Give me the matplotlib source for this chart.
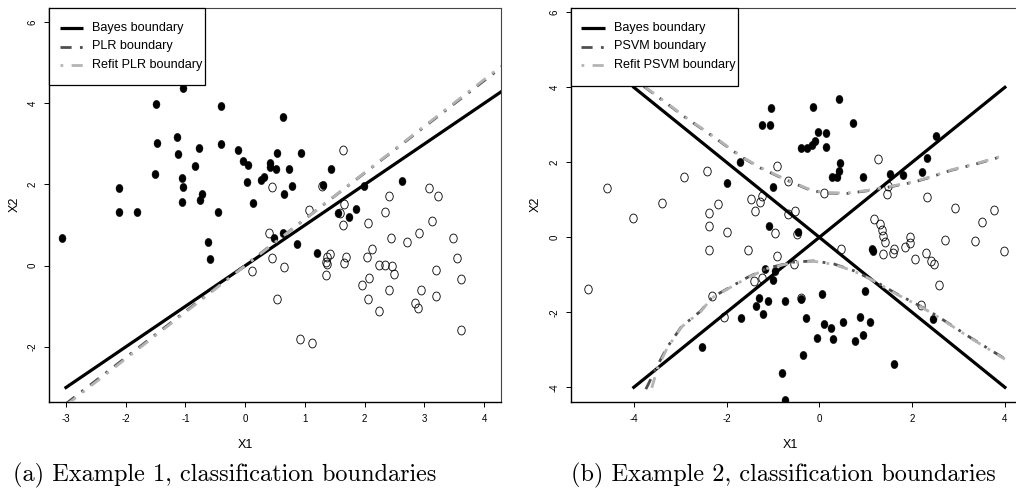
import matplotlib
matplotlib.use("Agg")
import matplotlib.pyplot as plt
from matplotlib.path import Path
from matplotlib.lines import Line2D
from matplotlib.patches import Rectangle
import numpy as np

# ---------------- Example 1 data ----------------
ex1_pos_x = [-1.04, -1.50, -0.41, 0.64, -1.48, -1.14, -1.13, -0.78, -0.41, -0.12,
             -0.04, 0.04, -0.84, -1.51, -1.06, -1.04, 0.03, -2.11, -0.73, -0.76,
             -1.05, -0.45, -1.81, -2.12, -3.07, -0.63, -0.59, 0.53, 0.93, 0.41,
             0.42, 0.52, 0.74, 0.26, 0.31, 0.78, 0.65, 0.13, 1.44, 1.31,
             1.98, 1.56, 1.73, 1.85, 0.49, 0.63, 0.86, 1.20, 2.62]
ex1_pos_y = [4.37, 3.98, 3.94, 3.65, 3.02, 3.18, 2.76, 2.91, 3.00, 2.86,
             2.58, 2.49, 2.45, 2.26, 2.17, 1.95, 2.07, 1.92, 1.77, 1.62,
             1.58, 1.33, 1.33, 1.33, 0.69, 0.58, 0.17, 2.77, 2.78, 2.54,
             2.42, 2.37, 2.39, 2.12, 2.18, 1.96, 1.77, 1.54, 2.38, 1.99,
             1.96, 1.29, 1.19, 1.40, 0.67, 0.81, 0.53, 0.32, 2.09]

ex1_neg_x = [0.12, 1.63, 0.44, 1.29, 2.41, 3.08, 3.22, 1.07, 1.65, 2.34,
             1.59, 3.13, 2.06, 1.63, 0.40, 2.44, 2.70, 2.91, 3.47, 2.13,
             2.03, 1.42, 1.37, 1.35, 1.37, 1.69, 1.65, 0.45, 0.65, 1.35,
             2.24, 2.34, 2.45, 2.49, 3.54, 3.19, 3.61, 2.07, 1.96, 2.40,
             2.95, 3.20, 2.06, 0.54, 2.24, 2.84, 2.89, 3.61, 0.91, 1.11]
ex1_neg_y = [-0.13, 2.84, 1.93, 1.97, 1.71, 1.91, 1.72, 1.38, 1.51, 1.32,
             1.31, 1.11, 1.04, 1.01, 0.80, 0.67, 0.59, 0.81, 0.69, 0.41,
             0.22, 0.29, 0.22, 0.10, 0.04, 0.22, 0.06, 0.20, -0.04, -0.23,
             0.02, 0.02, -0.01, -0.20, 0.18, -0.11, -0.33, -0.30, -0.48, -0.60,
             -0.60, -0.75, -0.82, -0.83, -1.12, -0.91, -1.03, -1.58, -1.81, -1.91]

ex1_bayes_x = [-3.0, 4.5]
ex1_bayes_y = [-3.0, 4.5]
ex1_plr_x = [-3.0, 4.3]
ex1_plr_y = [-3.40, 4.90]
ex1_refit_x = [-3.0, 4.3]
ex1_refit_y = [-3.44, 4.93]

# ---------------- Example 2 data ----------------
ex2_pos_x = [0.42, -0.14, -1.04, -1.24, -1.07, 0.72, -0.03, 0.14, -0.39, -0.26,
             -0.16, -0.09, 0.14, 0.45, 0.42, 0.27, 0.39, 0.95, -1.72, -1.98,
             -1.00, 1.53, 1.80, 2.21, 2.32, 2.51, -1.09, -0.45, 1.13, 1.15,
             -1.18, -0.96, -1.00, -1.31, -1.10, -1.36, -1.21, -0.75, -0.40, 0.06,
             0.99, -1.68, -0.28, 0.09, 0.25, 0.50, 0.88, 1.10, -0.06, 0.29,
             0.76, 0.95, -0.35, 1.60, -0.80, -0.75, 2.45, -2.52]
ex2_pos_y = [3.70, 3.47, 3.45, 3.00, 3.00, 3.04, 2.80, 2.78, 2.38, 2.38,
             2.45, 2.58, 2.40, 1.98, 1.78, 1.60, 1.60, 1.62, 2.01, 1.46,
             1.33, 1.69, 1.66, 1.73, 2.12, 2.69, 0.29, 0.15, -0.31, -0.37,
             -0.84, -0.89, -1.15, -1.63, -1.70, -1.83, -2.04, -1.70, -1.64, -1.50,
             -1.42, -2.14, -2.14, -2.31, -2.42, -2.25, -2.13, -2.26, -2.69, -2.70,
             -2.77, -2.60, -3.15, -3.38, -3.63, -4.34, -2.18, -2.93]

ex2_neg_x = [-4.58, -4.02, -3.40, -2.91, -2.42, -2.38, -2.19, -2.37, -2.00, -2.37,
             -1.54, -4.99, -2.31, -2.05, -1.40, -1.23, -1.47, -1.23, -1.27, -1.38,
             -0.91, -0.68, 0.09, 1.26, 1.48, 1.46, 2.32, -0.67, -0.52, -0.95,
             -0.48, -0.92, 0.47, 1.17, 1.30, 1.36, 1.38, 1.42, 1.37, 1.60,
             1.58, 1.84, 1.95, 1.96, 2.06, 2.29, 2.41, 2.48, 2.57, 2.19,
             2.71, 3.35, 3.51, 3.77, 2.92, 3.98, -0.55, -0.40]
ex2_neg_y = [1.32, 0.51, 0.92, 1.60, 1.78, 0.66, 0.90, 0.29, 0.13, -0.35,
             -0.35, -1.38, -1.56, -2.13, -1.17, -1.08, 1.02, 1.11, 0.93, 0.69,
             1.89, 1.49, 1.18, 2.09, 1.36, 1.16, 1.07, 0.62, 0.69, 0.11,
             0.09, -0.49, -0.30, 0.49, 0.36, 0.20, 0.04, -0.13, -0.45, -0.31,
             -0.42, -0.25, -0.14, 0.00, -0.59, -0.43, -0.62, -0.71, -1.27, -1.80,
             -0.06, -0.11, 0.42, 0.73, 0.78, -0.37, -0.71, -1.62]

ex2_bayes_up_x = [-4.0, 4.0]
ex2_bayes_up_y = [-4.0, 4.0]
ex2_bayes_dn_x = [-4.0, 4.0]
ex2_bayes_dn_y = [4.0, -4.0]

psvm_upper_x = [-3.78, -3.42, -2.87, -2.27, -1.88, -1.66, -1.27, -0.84, -0.26, 0.09,
                0.60, 1.03, 1.46, 2.03, 2.39, 2.82, 3.39, 4.00]
psvm_upper_y = [4.02, 3.69, 3.18, 2.67, 2.32, 2.13, 1.85, 1.60, 1.29, 1.18,
                1.17, 1.24, 1.33, 1.47, 1.60, 1.78, 1.96, 2.18]
psvm_lower_x = [-3.74, -3.49, -3.28, -2.97, -2.56, -2.31, -1.55, -1.12, -0.55, -0.12,
                0.31, 0.74, 1.17, 1.67, 2.17, 2.53, 3.25, 4.00]
psvm_lower_y = [-4.05, -3.42, -2.93, -2.38, -1.97, -1.60, -1.07, -0.82, -0.66, -0.63,
                -0.71, -0.89, -1.15, -1.51, -1.83, -2.09, -2.67, -3.24]
refit_upper_x = [-3.78, -3.42, -2.87, -2.27, -1.88, -1.66, -1.27, -0.84, -0.26, 0.09,
                 0.60, 1.03, 1.46, 2.03, 2.39, 2.82, 3.39, 4.00]
refit_upper_y = [4.03, 3.70, 3.19, 2.68, 2.33, 2.14, 1.86, 1.61, 1.30, 1.19,
                 1.18, 1.25, 1.34, 1.48, 1.61, 1.79, 1.97, 2.19]
refit_lower_x = [-3.62, -3.49, -3.28, -2.97, -2.56, -2.31, -1.55, -1.12, -0.55, -0.12,
                 0.31, 0.74, 1.17, 1.67, 2.17, 2.53, 3.25, 4.00]
refit_lower_y = [-4.05, -3.50, -2.95, -2.39, -1.98, -1.61, -1.08, -0.83, -0.67, -0.64,
                 -0.72, -0.90, -1.16, -1.52, -1.84, -2.10, -2.68, -3.25]

ex1_xticks = [-3, -2, -1, 0, 1, 2, 3, 4]
ex1_yticks = [-2, 0, 2, 4, 6]
ex2_xticks = [-4, -2, 0, 2, 4]
ex2_yticks = [-4, -2, 0, 2, 4, 6]

ex1_labels = ["Bayes boundary", "PLR boundary", "Refit PLR boundary"]
ex2_labels = ["Bayes boundary", "PSVM boundary", "Refit PSVM boundary"]
captions = ["(a) Example 1, classification boundaries",
            "(b) Example 2, classification boundaries"]

# ---------------- styling ----------------
W, H = 1016, 492
SANS = ["Liberation Sans", "DejaVu Sans"]
plt.rcParams["font.family"] = SANS

DARK = "#4f4f4f"
LIGHT = "#b4b4b4"
LW = 2.0
STYLE_MAIN = (0, (4, 3, 1, 3))
STYLE_REFIT = (3.5, (1, 3, 4, 3))
STYLE_REFIT_KEY = (0, (1, 3, 4, 3))

# slightly narrow ellipse marker (points look taller than wide)
_c = Path.unit_circle()
ELLIPSE = Path(_c.vertices * np.array([0.84, 1.0]), _c.codes)
MS = 6.0


def frac(x0, y0, x1, y1):
    return [x0 / W, 1 - y1 / H, (x1 - x0) / W, (y1 - y0) / H]


fig = plt.figure(figsize=(W / 100, H / 100), dpi=100)
ax1 = fig.add_axes(frac(49, 8, 500.7, 401.7))
ax2 = fig.add_axes(frac(570.7, 8, 1021.6, 401.7))


def style_axes(ax, xticks, yticks):
    for side in ("left", "bottom"):
        ax.spines[side].set_linewidth(1.0)
        ax.spines[side].set_color("black")
    for side in ("top", "right"):
        ax.spines[side].set_linewidth(0.8)
        ax.spines[side].set_color("#444444")
    ax.set_xticks(xticks)
    ax.set_xticklabels([str(t) for t in xticks])
    ax.set_yticks(yticks)
    ax.set_yticklabels([str(t) for t in yticks])
    ax.tick_params(axis="both", direction="out", length=3.6, width=0.7,
                   labelsize=7, colors="black")
    ax.tick_params(axis="x", pad=5.5)
    ax.tick_params(axis="y", pad=4.5)
    for lbl in ax.get_yticklabels():
        lbl.set_rotation(90)
        lbl.set_va("center")
        lbl.set_ha("right")


def scatter(ax, px, py, nx, ny):
    ax.plot(nx, ny, linestyle="none", marker=ELLIPSE, markersize=MS + 0.4,
            markerfacecolor="none", markeredgecolor="black",
            markeredgewidth=0.6, zorder=2)
    ax.plot(px, py, linestyle="none", marker=ELLIPSE, markersize=MS,
            markerfacecolor="black", markeredgecolor="black",
            markeredgewidth=0.3, zorder=3)


def key_box(box, rows, line_x, text_x, labels):
    """Legend drawn in figure pixels: frame, line samples and labels."""
    x0, y0, x1, y1 = box
    fig.add_artist(Rectangle((x0 / W, 1 - y1 / H), (x1 - x0) / W, (y1 - y0) / H,
                             transform=fig.transFigure, facecolor="white",
                             edgecolor="black", lw=0.9, zorder=10))
    styles = [dict(color="black", lw=LW + 0.3, solid_capstyle="butt"),
              dict(color=DARK, lw=LW, linestyle=STYLE_MAIN),
              dict(color=LIGHT, lw=LW, linestyle=STYLE_REFIT_KEY)]
    for yy, st, lab in zip(rows, styles, labels):
        fig.add_artist(Line2D([line_x[0] / W, line_x[1] / W], [1 - yy / H] * 2,
                              transform=fig.transFigure, zorder=11, **st))
        fig.text(text_x / W, 1 - yy / H, lab, fontsize=9.1, ha="left",
                 va="center", zorder=12)


# ---------------- panel (a) ----------------
scatter(ax1, ex1_pos_x, ex1_pos_y, ex1_neg_x, ex1_neg_y)
ax1.plot(ex1_bayes_x, ex1_bayes_y, color="black", lw=LW + 0.3, zorder=4)
ax1.plot(ex1_plr_x, ex1_plr_y, color=DARK, lw=LW, linestyle=STYLE_MAIN, zorder=5)
ax1.plot(ex1_refit_x, ex1_refit_y, color=LIGHT, lw=LW, linestyle=STYLE_REFIT, zorder=5)
ax1.set_xlim(-3.284, 4.276)
ax1.set_ylim(-3.350, 6.347)
style_axes(ax1, ex1_xticks, ex1_yticks)
key_box((49, 8, 205, 85), (28, 46.5, 65), (60, 83), 92.5, ex1_labels)

# ---------------- panel (b) ----------------
scatter(ax2, ex2_pos_x, ex2_pos_y, ex2_neg_x, ex2_neg_y)
ax2.plot(ex2_bayes_up_x, ex2_bayes_up_y, color="black", lw=LW + 0.3, zorder=4)
ax2.plot(ex2_bayes_dn_x, ex2_bayes_dn_y, color="black", lw=LW + 0.3, zorder=4)
for cx, cy in ((psvm_upper_x, psvm_upper_y), (psvm_lower_x, psvm_lower_y)):
    ax2.plot(cx, cy, color=DARK, lw=LW, linestyle=STYLE_MAIN, zorder=5)
for cx, cy in ((refit_upper_x, refit_upper_y), (refit_lower_x, refit_lower_y)):
    ax2.plot(cx, cy, color=LIGHT, lw=LW, linestyle=STYLE_REFIT, zorder=5)
ax2.set_xlim(-5.36, 4.36)
ax2.set_ylim(-4.384, 6.115)
style_axes(ax2, ex2_xticks, ex2_yticks)
key_box((570.7, 8, 738, 86), (28, 46.5, 65), (581, 605), 614.5, ex2_labels)

# ---------------- axis titles and captions ----------------
fig.text(245 / W, 1 - 445 / H, "X1", fontsize=9, ha="center", va="center")
fig.text(790 / W, 1 - 445 / H, "X1", fontsize=9, ha="center", va="center")
fig.text(15 / W, 1 - 204 / H, "X2", fontsize=9, ha="center", va="center",
         rotation=90)
fig.text(536 / W, 1 - 204 / H, "X2", fontsize=9, ha="center", va="center",
         rotation=90)
fig.text(225 / W, 1 - 475 / H, captions[0], fontsize=17.5, family="cmr10",
         ha="center", va="center")
fig.text(783 / W, 1 - 475 / H, captions[1], fontsize=17.5, family="cmr10",
         ha="center", va="center")

fig.savefig("out.png", dpi=100)
